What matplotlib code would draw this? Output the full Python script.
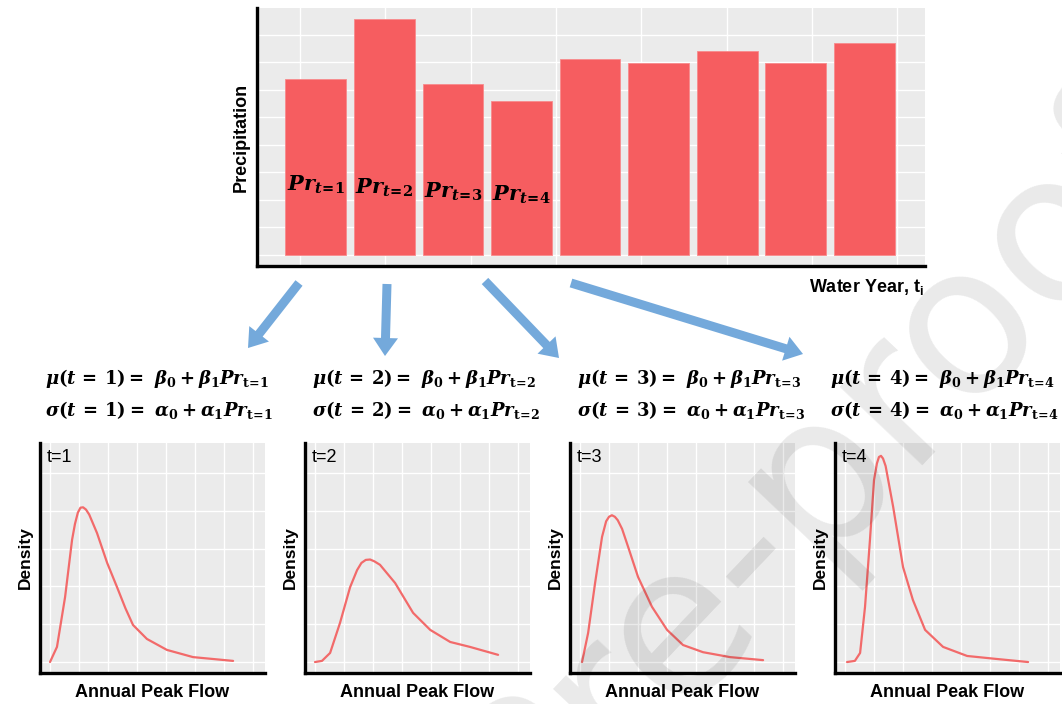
import matplotlib
matplotlib.use("Agg")
import matplotlib.pyplot as plt
import matplotlib.transforms as mtransforms
from matplotlib.patches import FancyArrow
import numpy as np

W, H = 1062, 704

# bar chart data (precipitation per water year)
years = [1, 2, 3, 4, 5, 6, 7, 8, 9]
precip = [6.40, 8.58, 6.22, 5.60, 7.13, 6.98, 7.42, 6.98, 7.71]
bar_labels = [r"$Pr_{t\!=\!1}$", r"$Pr_{t\!=\!2}$", r"$Pr_{t\!=\!3}$", r"$Pr_{t\!=\!4}$"]

# density curves, one per t
flow1 = [0.0, 0.24, 0.52, 0.76, 0.86, 0.96, 1.05, 1.14, 1.24, 1.35, 1.62, 1.97, 2.31, 2.60, 2.86, 3.34, 4.03, 4.93, 5.62, 6.31]
dens1 = [0.0, 0.40, 1.72, 3.23, 3.65, 3.95, 4.08, 4.09, 4.03, 3.90, 3.41, 2.62, 1.98, 1.42, 0.98, 0.61, 0.32, 0.13, 0.08, 0.03]
flow2 = [0.0, 0.24, 0.52, 0.86, 1.21, 1.45, 1.60, 1.75, 1.90, 2.05, 2.24, 2.76, 3.38, 3.97, 4.66, 5.34, 6.31]
dens2 = [0.0, 0.03, 0.24, 1.03, 1.98, 2.43, 2.62, 2.70, 2.71, 2.66, 2.57, 2.09, 1.30, 0.85, 0.53, 0.40, 0.19]
flow3 = [0.07, 0.28, 0.52, 0.76, 0.90, 1.00, 1.10, 1.20, 1.30, 1.45, 1.66, 2.00, 2.48, 3.00, 3.55, 4.24, 5.17, 6.31]
dens3 = [0.0, 0.77, 2.09, 3.31, 3.72, 3.84, 3.88, 3.84, 3.75, 3.52, 3.04, 2.25, 1.46, 0.85, 0.45, 0.26, 0.13, 0.05]
flow4 = [0.07, 0.34, 0.52, 0.69, 0.86, 1.00, 1.10, 1.17, 1.24, 1.31, 1.40, 1.66, 2.00, 2.34, 2.76, 3.38, 4.21, 5.24, 6.31]
dens4 = [0.0, 0.03, 0.24, 1.46, 3.23, 4.81, 5.25, 5.42, 5.45, 5.38, 5.18, 4.10, 2.51, 1.64, 0.85, 0.40, 0.16, 0.08, 0.0]
curves = [(flow1, dens1), (flow2, dens2), (flow3, dens3), (flow4, dens4)]
t_labels = ["t=1", "t=2", "t=3", "t=4"]

BAR = "#f65d60"
LINE = "#f26a6a"
GRAY = "#ebebeb"
BLUE = "#74a9db"

plt.rcParams["mathtext.fontset"] = "custom"
plt.rcParams["mathtext.it"] = "DejaVu Serif:italic:bold"
plt.rcParams["mathtext.rm"] = "DejaVu Serif:bold"
plt.rcParams["mathtext.bf"] = "DejaVu Serif:bold"
plt.rcParams["mathtext.sf"] = "Liberation Sans:bold"
plt.rcParams["font.family"] = ["Liberation Sans", "DejaVu Sans"]


def box(l, t, r, b):
    return [l / W, 1 - b / H, (r - l) / W, (b - t) / H]


def style(ax):
    ax.set_facecolor(GRAY)
    for s in ["top", "right"]:
        ax.spines[s].set_visible(False)
    for s in ["left", "bottom"]:
        ax.spines[s].set_linewidth(2.4)
        ax.spines[s].set_color("black")
    ax.grid(True, color="white", lw=1.0)
    ax.set_axisbelow(True)
    ax.tick_params(length=0, labelleft=False, labelbottom=False)


fig = plt.figure(figsize=(W / 100, H / 100), dpi=100)

# top bar chart
ax = fig.add_axes(box(257, 8, 925, 266))
style(ax)
ax.bar(years, precip, width=0.89, color=BAR, edgecolor="#f88a8c", lw=0.6)
ax.set_xlim(0.139, 9.89)
ax.set_ylim(-0.4, 8.98)
ax.set_yticks(np.arange(0, 9))
ax.set_xticks(np.arange(0.766, 9.6, 1.246))
ax.set_ylabel("Precipitation", fontsize=13, fontweight="bold", labelpad=5)
for i, lab in enumerate(bar_labels):
    ax.text(years[i], 2.55 - 0.12 * i, lab, ha="center", va="center", fontsize=15)
fig.text(866 / W, 1 - 287 / H, r"Water Year, $\mathsf{t}_\mathsf{i}$", ha="center", va="center",
         fontsize=13, fontweight="bold")

# arrows from bars to equations
arrows = [((299, 283), (248, 348)), ((387, 284), (385, 356)),
          ((485, 281), (559, 358)), ((571, 283), (803, 354))]
for (x0, y0), (x1, y1) in arrows:
    a = FancyArrow(x0, H - y0, x1 - x0, -(y1 - y0), width=9, head_width=25, head_length=18,
                   length_includes_head=True, color=BLUE, lw=0,
                   transform=mtransforms.IdentityTransform())
    fig.add_artist(a)

# equations
eq_x = [45, 312, 577, 830]
for i, x in enumerate(eq_x):
    n = i + 1
    mu = r"$\mu(t\,=\,%d) =\ \beta_0 + \beta_1 Pr_{\rm t\!=\!%d}$" % (n, n)
    sg = r"$\sigma(t\,=\,%d) =\ \alpha_0 + \alpha_1 Pr_{\rm t\!=\!%d}$" % (n, n)
    fig.text(x / W, 1 - 378 / H, mu, ha="left", va="center", fontsize=13)
    fig.text(x / W, 1 - 410 / H, sg, ha="left", va="center", fontsize=13)

# density panels
lefts = [40, 305, 570, 835]
for i, l in enumerate(lefts):
    a = fig.add_axes(box(l, 443, l + 225, 673))
    style(a)
    fx, dy = curves[i]
    a.plot(fx, dy, color=LINE, lw=1.6, solid_capstyle="round", solid_joinstyle="round")
    a.set_xlim(-0.345, 7.41)
    a.set_ylim(-0.29, 5.79)
    a.set_xticks(np.arange(0, 8))
    a.set_yticks(np.arange(0, 6))
    a.text(0.03, 0.935, t_labels[i], transform=a.transAxes, ha="left", va="center", fontsize=13)
    a.set_ylabel("Density", fontsize=12.5, fontweight="bold", labelpad=5)
    a.set_xlabel("Annual Peak Flow", fontsize=13, fontweight="bold", labelpad=8)

# watermark
fig.text(1270, H - 110, "Journal Pre-proofs", transform=mtransforms.IdentityTransform(),
         rotation=46.5, rotation_mode="anchor", ha="right", va="baseline",
         fontsize=150, family="DejaVu Sans", color="black", alpha=0.085, zorder=100)

fig.savefig("out.png", dpi=100)
